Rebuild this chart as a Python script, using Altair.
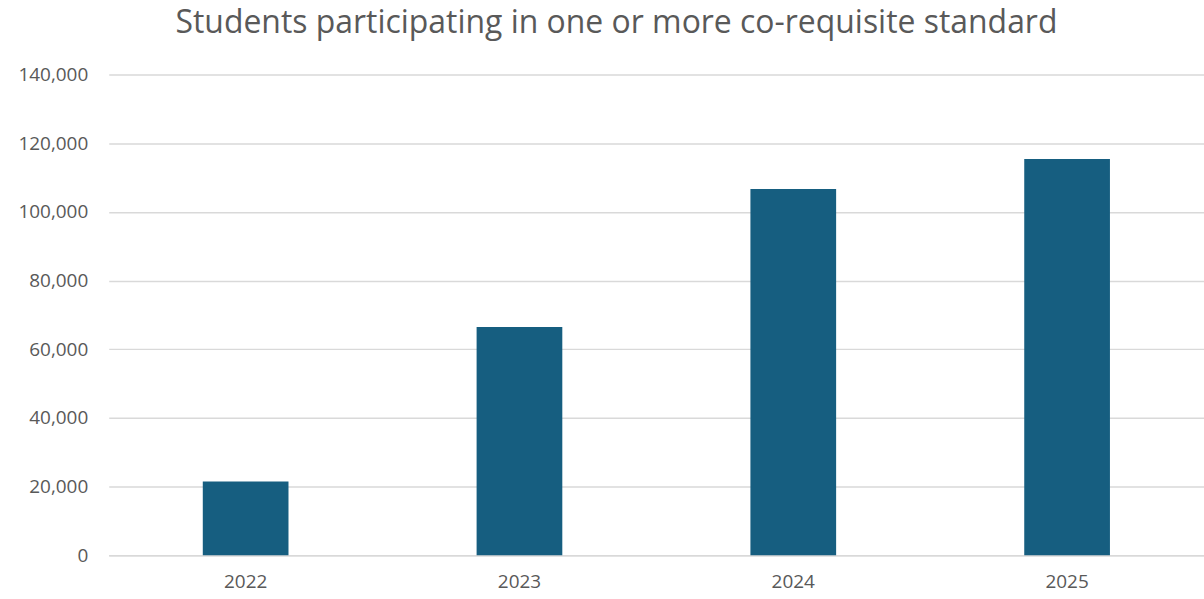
import altair as alt
import pandas as pd

years = ["2022", "2023", "2024", "2025"]
students = [21500, 66500, 106700, 115400]

df = pd.DataFrame({"year": years, "students": students})

chart = alt.Chart(df).mark_bar(color="#165E80").encode(
    x=alt.X("year:N", sort=years, title=None,
            scale=alt.Scale(paddingInner=0.687, paddingOuter=0.3435),
            axis=alt.Axis(labelAngle=0, labelFontSize=19, labelColor="#595959",
                          labelFont="Open Sans", ticks=False, domain=True,
                          domainColor="#D9D9D9", domainWidth=1.5, labelPadding=17, grid=False)),
    y=alt.Y("students:Q", title=None,
            scale=alt.Scale(domain=[0, 140000], nice=False),
            axis=alt.Axis(values=list(range(0, 140001, 20000)), format=",d",
                          labelFontSize=19, labelColor="#595959", labelFont="Open Sans",
                          ticks=False, domain=False, gridColor="#D9D9D9", gridWidth=1.5,
                          labelPadding=21)),
).properties(
    width=1098, height=482,
    autosize=alt.AutoSizeParams(type="none"),
    padding={"left": 109, "top": 74, "right": 0, "bottom": 43},
    title=alt.TitleParams("Students participating in one or more co-requisite standard",
                          fontSize=32, font="Open Sans", fontWeight="normal", color="#595959",
                          anchor="middle", dx=-40, offset=26),
).configure_view(stroke=None)

chart.save("out.html", embed_options={"renderer": "svg", "actions": False})
